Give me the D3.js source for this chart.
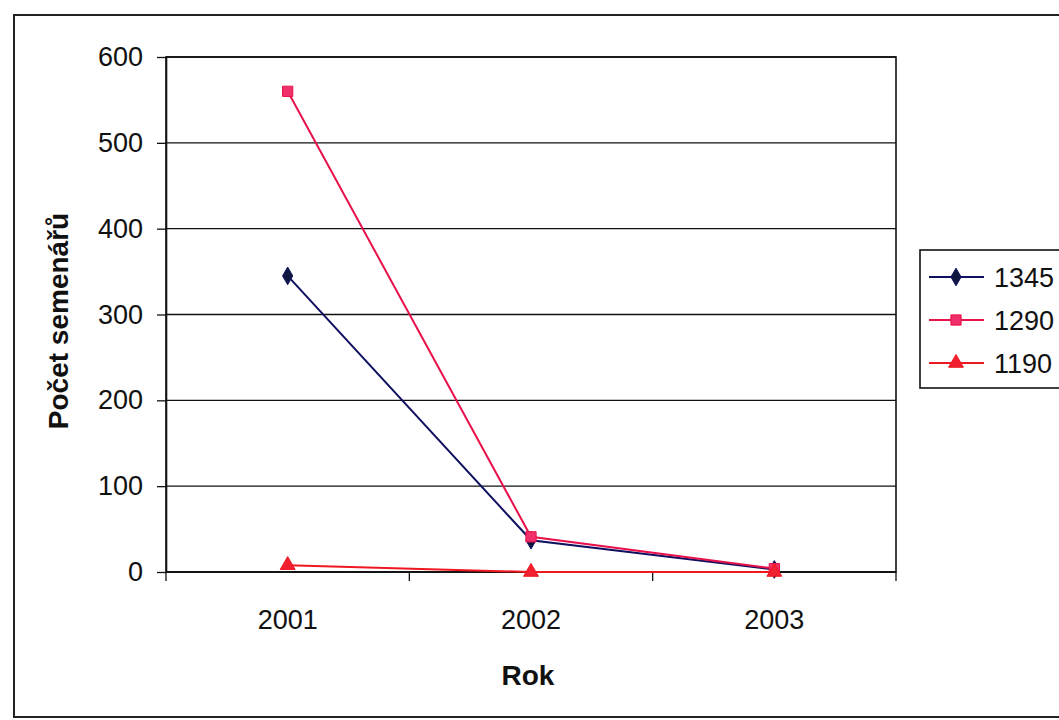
<!DOCTYPE html>
<html>
<head>
<meta charset="utf-8">
<script src="https://cdn.jsdelivr.net/npm/d3@7/dist/d3.min.js"></script>
<style>
  html, body { margin: 0; padding: 0; background: #fff; }
  svg { display: block; font-family: Arial, "Liberation Sans", sans-serif; }
</style>
</head>
<body>
<svg id="chart" width="1059" height="720"></svg>
<script>
// Years on the category axis
const years = ["2001", "2002", "2003"];
// Series names (altitude plots)
const seriesNames = ["1345", "1290", "1190"];
// Number of seed trees per year for each series
const values1345 = [345, 37, 3];
const values1290 = [560, 41, 4];
const values1190 = [8, 0, 0];
// Value axis ticks
const yTicks = [0, 100, 200, 300, 400, 500, 600];

const series = [
  { name: seriesNames[0], values: values1345, line: "#101060", fill: "#101840", symbol: d3.symbolDiamond, size: 90 },
  { name: seriesNames[1], values: values1290, line: "#e8104a", fill: "#f0306a", symbol: d3.symbolSquare, size: 105 },
  { name: seriesNames[2], values: values1190, line: "#f01820", fill: "#f02030", symbol: d3.symbolTriangle, size: 95 }
];

const FONT = "Arial, 'Liberation Sans', sans-serif";
const svg = d3.select("#chart");

// outer frame
svg.append("rect")
  .attr("x", 14).attr("y", 15)
  .attr("width", 1080).attr("height", 702)
  .attr("fill", "none").attr("stroke", "#222").attr("stroke-width", 2);

const plot = { left: 166, top: 57, right: 896, bottom: 572 };

const x = d3.scaleBand().domain(years).range([plot.left, plot.right]);
const y = d3.scaleLinear().domain([0, 600]).range([plot.bottom, plot.top]);

// horizontal gridlines
svg.append("g")
  .selectAll("line")
  .data(yTicks)
  .join("line")
  .attr("x1", plot.left).attr("x2", plot.right)
  .attr("y1", d => y(d)).attr("y2", d => y(d))
  .attr("stroke", "#111").attr("stroke-width", 1.3);

// plot area border
svg.append("rect")
  .attr("x", plot.left).attr("y", plot.top)
  .attr("width", plot.right - plot.left).attr("height", plot.bottom - plot.top)
  .attr("fill", "none").attr("stroke", "#111").attr("stroke-width", 1.6);

// y axis
const yAxis = d3.axisLeft(y).tickValues(yTicks).tickSize(9).tickPadding(14).tickSizeOuter(0);
const gy = svg.append("g").attr("transform", `translate(${plot.left},0)`).call(yAxis);
gy.select(".domain").attr("stroke", "#111").attr("stroke-width", 1.6);
gy.selectAll(".tick line").attr("stroke", "#111").attr("stroke-width", 1.3);
gy.selectAll(".tick text").attr("font-size", 27).attr("fill", "#111")
  .attr("font-family", FONT);

// x axis: ticks fall between categories
const gx = svg.append("g").attr("transform", `translate(0,${plot.bottom})`);
gx.append("line")
  .attr("x1", plot.left).attr("x2", plot.right)
  .attr("stroke", "#111").attr("stroke-width", 1.6);
const boundaries = years.map(d => x(d)).concat([x.range()[1]]);
gx.selectAll("line.sep")
  .data(boundaries)
  .join("line")
  .attr("class", "sep")
  .attr("x1", d => d).attr("x2", d => d)
  .attr("y1", 0).attr("y2", 9)
  .attr("stroke", "#111").attr("stroke-width", 1.3);
gx.selectAll("text")
  .data(years)
  .join("text")
  .attr("x", d => x(d) + x.bandwidth() / 2)
  .attr("y", 57)
  .attr("text-anchor", "middle")
  .attr("font-size", 27)
  .attr("fill", "#111")
  .text(d => d);

// axis titles
svg.append("text")
  .attr("x", 528).attr("y", 685)
  .attr("text-anchor", "middle")
  .attr("font-size", 28).attr("font-weight", "bold").attr("fill", "#111")
  .text("Rok");
svg.append("text")
  .attr("transform", "translate(68,321) rotate(-90)")
  .attr("text-anchor", "middle")
  .attr("font-size", 28).attr("font-weight", "bold").attr("fill", "#111")
  .text("Počet semenářů");

// series lines and markers
const line = d3.line()
  .x((d, i) => x(years[i]) + x.bandwidth() / 2)
  .y(d => y(d));

series.forEach(s => {
  const g = svg.append("g");
  g.append("path")
    .attr("d", line(s.values))
    .attr("fill", "none")
    .attr("stroke", s.line)
    .attr("stroke-width", 2);
  g.selectAll("path.pt")
    .data(s.values)
    .join("path")
    .attr("class", "pt")
    .attr("transform", (d, i) => `translate(${x(years[i]) + x.bandwidth() / 2},${y(d)})`)
    .attr("d", d3.symbol().type(s.symbol).size(s.size))
    .attr("fill", s.fill)
    .attr("stroke", s.line)
    .attr("stroke-width", 1);
});

// legend
const legend = svg.append("g");
legend.append("rect")
  .attr("x", 920).attr("y", 250)
  .attr("width", 160).attr("height", 138)
  .attr("fill", "#fff").attr("stroke", "#111").attr("stroke-width", 1.6);
series.forEach((s, i) => {
  const cy = 277 + i * 43;
  legend.append("line")
    .attr("x1", 929).attr("x2", 984)
    .attr("y1", cy).attr("y2", cy)
    .attr("stroke", s.line).attr("stroke-width", 2);
  legend.append("path")
    .attr("transform", `translate(956,${cy})`)
    .attr("d", d3.symbol().type(s.symbol).size(s.size))
    .attr("fill", s.fill).attr("stroke", s.line).attr("stroke-width", 1);
  legend.append("text")
    .attr("x", 994).attr("y", cy + 10)
    .attr("font-size", 27).attr("fill", "#111")
    .attr("font-family", FONT)
    .text(s.name);
});
</script>
</body>
</html>
